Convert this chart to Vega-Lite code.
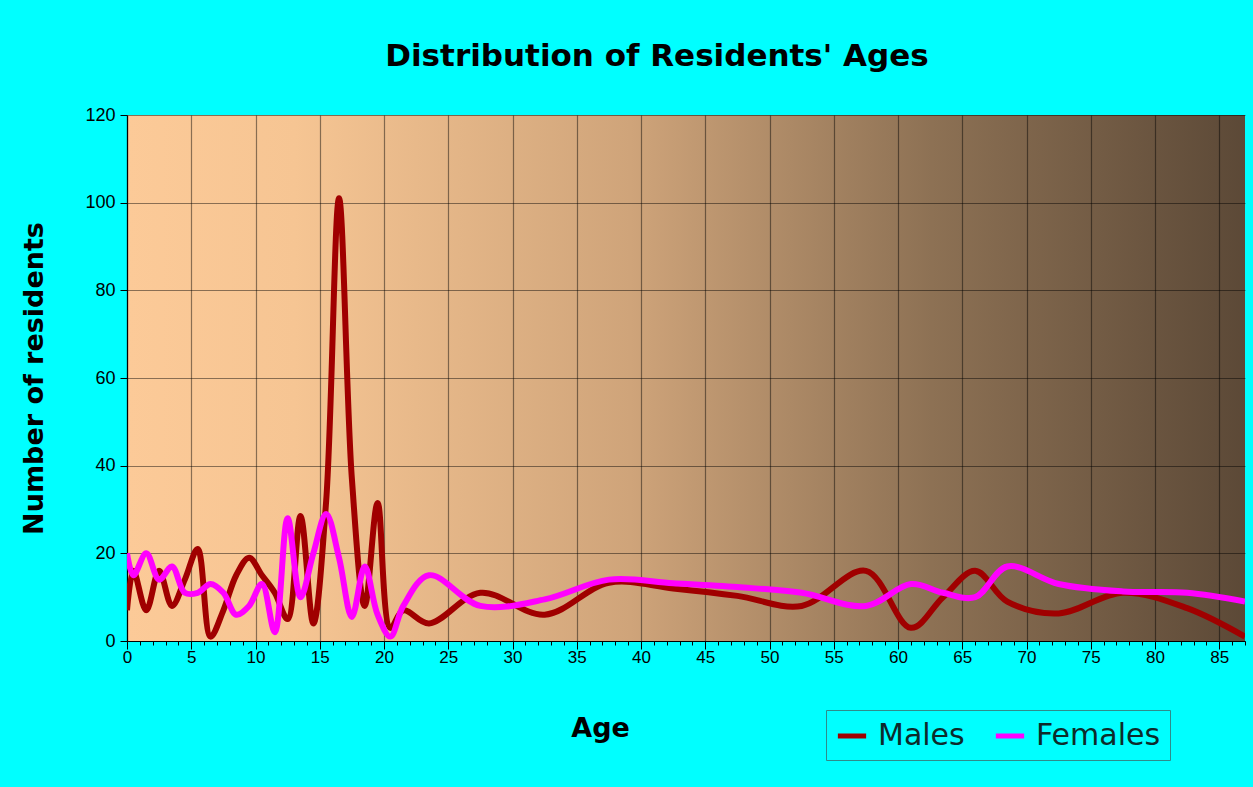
{
  "$schema": "https://vega.github.io/schema/vega-lite/v6.json",
  "width": 1118,
  "height": 526,
  "autosize": "none",
  "padding": {"left": 127, "top": 115, "right": 8, "bottom": 146},
  "background": "#00FFFF",
  "title": {
    "text": "Distribution of Residents' Ages",
    "font": "DejaVu Sans",
    "fontSize": 31,
    "fontWeight": "bold",
    "color": "#000000",
    "anchor": "middle",
    "offset": 33,
    "dx": -29
  },
  "config": {
    "view": {
      "stroke": null,
      "fill": {
        "gradient": "linear",
        "x1": 0, "y1": 0, "x2": 1, "y2": 0,
        "stops": [
          {"offset": 0, "color": "#FCCA98"},
          {"offset": 0.15, "color": "#F6C593"},
          {"offset": 0.45, "color": "#CFA47A"},
          {"offset": 0.72, "color": "#8D7154"},
          {"offset": 1, "color": "#5C4937"}
        ]
      }
    }
  },
  "data": {
    "values": [
      {"age": 0, "count": 7, "sex": "Males"},
      {"age": 0.5, "count": 16, "sex": "Males"},
      {"age": 1.5, "count": 7, "sex": "Males"},
      {"age": 2.5, "count": 16, "sex": "Males"},
      {"age": 3.5, "count": 8, "sex": "Males"},
      {"age": 4.5, "count": 14, "sex": "Males"},
      {"age": 5.5, "count": 21, "sex": "Males"},
      {"age": 6.5, "count": 1, "sex": "Males"},
      {"age": 7.5, "count": 7, "sex": "Males"},
      {"age": 8.5, "count": 15, "sex": "Males"},
      {"age": 9.5, "count": 19, "sex": "Males"},
      {"age": 10.5, "count": 15, "sex": "Males"},
      {"age": 11.5, "count": 11, "sex": "Males"},
      {"age": 12.5, "count": 5, "sex": "Males"},
      {"age": 13.5, "count": 28.5, "sex": "Males"},
      {"age": 14.5, "count": 4, "sex": "Males"},
      {"age": 15.5, "count": 32, "sex": "Males"},
      {"age": 16.5, "count": 101, "sex": "Males"},
      {"age": 17.5, "count": 37, "sex": "Males"},
      {"age": 18.5, "count": 8, "sex": "Males"},
      {"age": 19.5, "count": 31.5, "sex": "Males"},
      {"age": 20.5, "count": 3, "sex": "Males"},
      {"age": 21.5, "count": 7, "sex": "Males"},
      {"age": 23.5, "count": 4, "sex": "Males"},
      {"age": 27.5, "count": 11, "sex": "Males"},
      {"age": 32.5, "count": 6, "sex": "Males"},
      {"age": 37.5, "count": 13.3, "sex": "Males"},
      {"age": 42.5, "count": 12, "sex": "Males"},
      {"age": 47.5, "count": 10.3, "sex": "Males"},
      {"age": 52.5, "count": 8, "sex": "Males"},
      {"age": 57.5, "count": 16, "sex": "Males"},
      {"age": 61, "count": 3, "sex": "Males"},
      {"age": 63.5, "count": 10, "sex": "Males"},
      {"age": 66, "count": 16, "sex": "Males"},
      {"age": 68.5, "count": 9, "sex": "Males"},
      {"age": 72.5, "count": 6.3, "sex": "Males"},
      {"age": 77.5, "count": 11, "sex": "Males"},
      {"age": 82.5, "count": 7.5, "sex": "Males"},
      {"age": 87, "count": 1, "sex": "Males"},
      {"age": 0, "count": 20, "sex": "Females"},
      {"age": 0.5, "count": 15, "sex": "Females"},
      {"age": 1.5, "count": 20, "sex": "Females"},
      {"age": 2.5, "count": 14, "sex": "Females"},
      {"age": 3.5, "count": 17, "sex": "Females"},
      {"age": 4.5, "count": 11, "sex": "Females"},
      {"age": 5.5, "count": 11, "sex": "Females"},
      {"age": 6.5, "count": 13, "sex": "Females"},
      {"age": 7.5, "count": 11, "sex": "Females"},
      {"age": 8.5, "count": 6, "sex": "Females"},
      {"age": 9.5, "count": 8, "sex": "Females"},
      {"age": 10.5, "count": 13, "sex": "Females"},
      {"age": 11.5, "count": 2, "sex": "Females"},
      {"age": 12.5, "count": 28, "sex": "Females"},
      {"age": 13.5, "count": 10, "sex": "Females"},
      {"age": 14.5, "count": 20, "sex": "Females"},
      {"age": 15.5, "count": 29, "sex": "Females"},
      {"age": 16.5, "count": 19, "sex": "Females"},
      {"age": 17.5, "count": 5.5, "sex": "Females"},
      {"age": 18.5, "count": 17, "sex": "Females"},
      {"age": 19.5, "count": 6, "sex": "Females"},
      {"age": 20.5, "count": 1, "sex": "Females"},
      {"age": 21.5, "count": 8, "sex": "Females"},
      {"age": 23.5, "count": 15, "sex": "Females"},
      {"age": 27.5, "count": 8, "sex": "Females"},
      {"age": 32.5, "count": 9.5, "sex": "Females"},
      {"age": 37.5, "count": 14, "sex": "Females"},
      {"age": 42.5, "count": 13.2, "sex": "Females"},
      {"age": 47.5, "count": 12.3, "sex": "Females"},
      {"age": 52.5, "count": 11, "sex": "Females"},
      {"age": 57.5, "count": 8, "sex": "Females"},
      {"age": 61, "count": 13, "sex": "Females"},
      {"age": 63.5, "count": 11, "sex": "Females"},
      {"age": 66, "count": 10, "sex": "Females"},
      {"age": 68.5, "count": 17, "sex": "Females"},
      {"age": 72.5, "count": 13, "sex": "Females"},
      {"age": 77.5, "count": 11.3, "sex": "Females"},
      {"age": 82.5, "count": 11, "sex": "Females"},
      {"age": 87, "count": 9, "sex": "Females"}
    ]
  },
  "mark": {"type": "line", "interpolate": "catmull-rom", "strokeWidth": 6, "clip": true},
  "encoding": {
    "x": {
      "field": "age",
      "type": "quantitative",
      "scale": {"domain": [0, 87], "nice": false, "zero": false},
      "axis": {
        "title": "Age",
        "titleFont": "DejaVu Sans",
        "titleFontSize": 27,
        "titleFontWeight": "bold",
        "titleColor": "#000000",
        "titlePadding": 50,
        "titleX": 473,
        "titleAlign": "center",
        "titleAnchor": "start",
        "values": [0,1,2,3,4,5,6,7,8,9,10,11,12,13,14,15,16,17,18,19,20,21,22,23,24,25,26,27,28,29,30,31,32,33,34,35,36,37,38,39,40,41,42,43,44,45,46,47,48,49,50,51,52,53,54,55,56,57,58,59,60,61,62,63,64,65,66,67,68,69,70,71,72,73,74,75,76,77,78,79,80,81,82,83,84,85,86,87],
        "labelExpr": "datum.value % 5 === 0 ? datum.label : ''",
        "labelFont": "Liberation Sans",
        "labelFontSize": 17,
        "labelColor": "#000000",
        "labelPadding": 0,
        "labelOverlap": false,
        "labelFlush": false,
        "tickColor": "#000000",
        "tickSize": {"condition": {"test": "datum.value % 5 === 0", "value": 8}, "value": 4},
        "domainColor": "#000000",
        "domainWidth": 1.2,
        "grid": true,
        "gridColor": "#000000",
        "gridWidth": 1.2,
        "gridOpacity": {"condition": {"test": "datum.value % 5 === 0", "value": 0.45}, "value": 0}
      }
    },
    "y": {
      "field": "count",
      "type": "quantitative",
      "scale": {"domain": [0, 120], "nice": false},
      "axis": {
        "title": "Number of residents",
        "titleFont": "DejaVu Sans",
        "titleFontSize": 27,
        "titleFontWeight": "bold",
        "titleColor": "#000000",
        "titlePadding": 36,
        "values": [0, 20, 40, 60, 80, 100, 120],
        "labelFont": "Liberation Sans",
        "labelFontSize": 18,
        "labelColor": "#000000",
        "labelPadding": 5,
        "tickColor": "#000000",
        "tickSize": 7,
        "domainColor": "#000000",
        "domainWidth": 1.2,
        "grid": true,
        "gridColor": "#000000",
        "gridWidth": 1.2,
        "gridOpacity": 0.45
      }
    },
    "color": {
      "field": "sex",
      "type": "nominal",
      "scale": {"domain": ["Males", "Females"], "range": ["#A00000", "#FF00FF"]},
      "legend": {
        "title": null,
        "orient": "none",
        "legendX": 699,
        "legendY": 595,
        "direction": "horizontal",
        "columns": 2,
        "columnPadding": 20,
        "padding": 9,
        "strokeColor": "#2E8B8B",
        "symbolType": "stroke",
        "symbolSize": 800,
        "symbolStrokeWidth": 5,
        "labelFont": "DejaVu Sans",
        "labelFontSize": 30,
        "labelColor": "#0D2B2B",
        "labelOffset": 9,
        "labelLimit": 300
      }
    }
  }
}
